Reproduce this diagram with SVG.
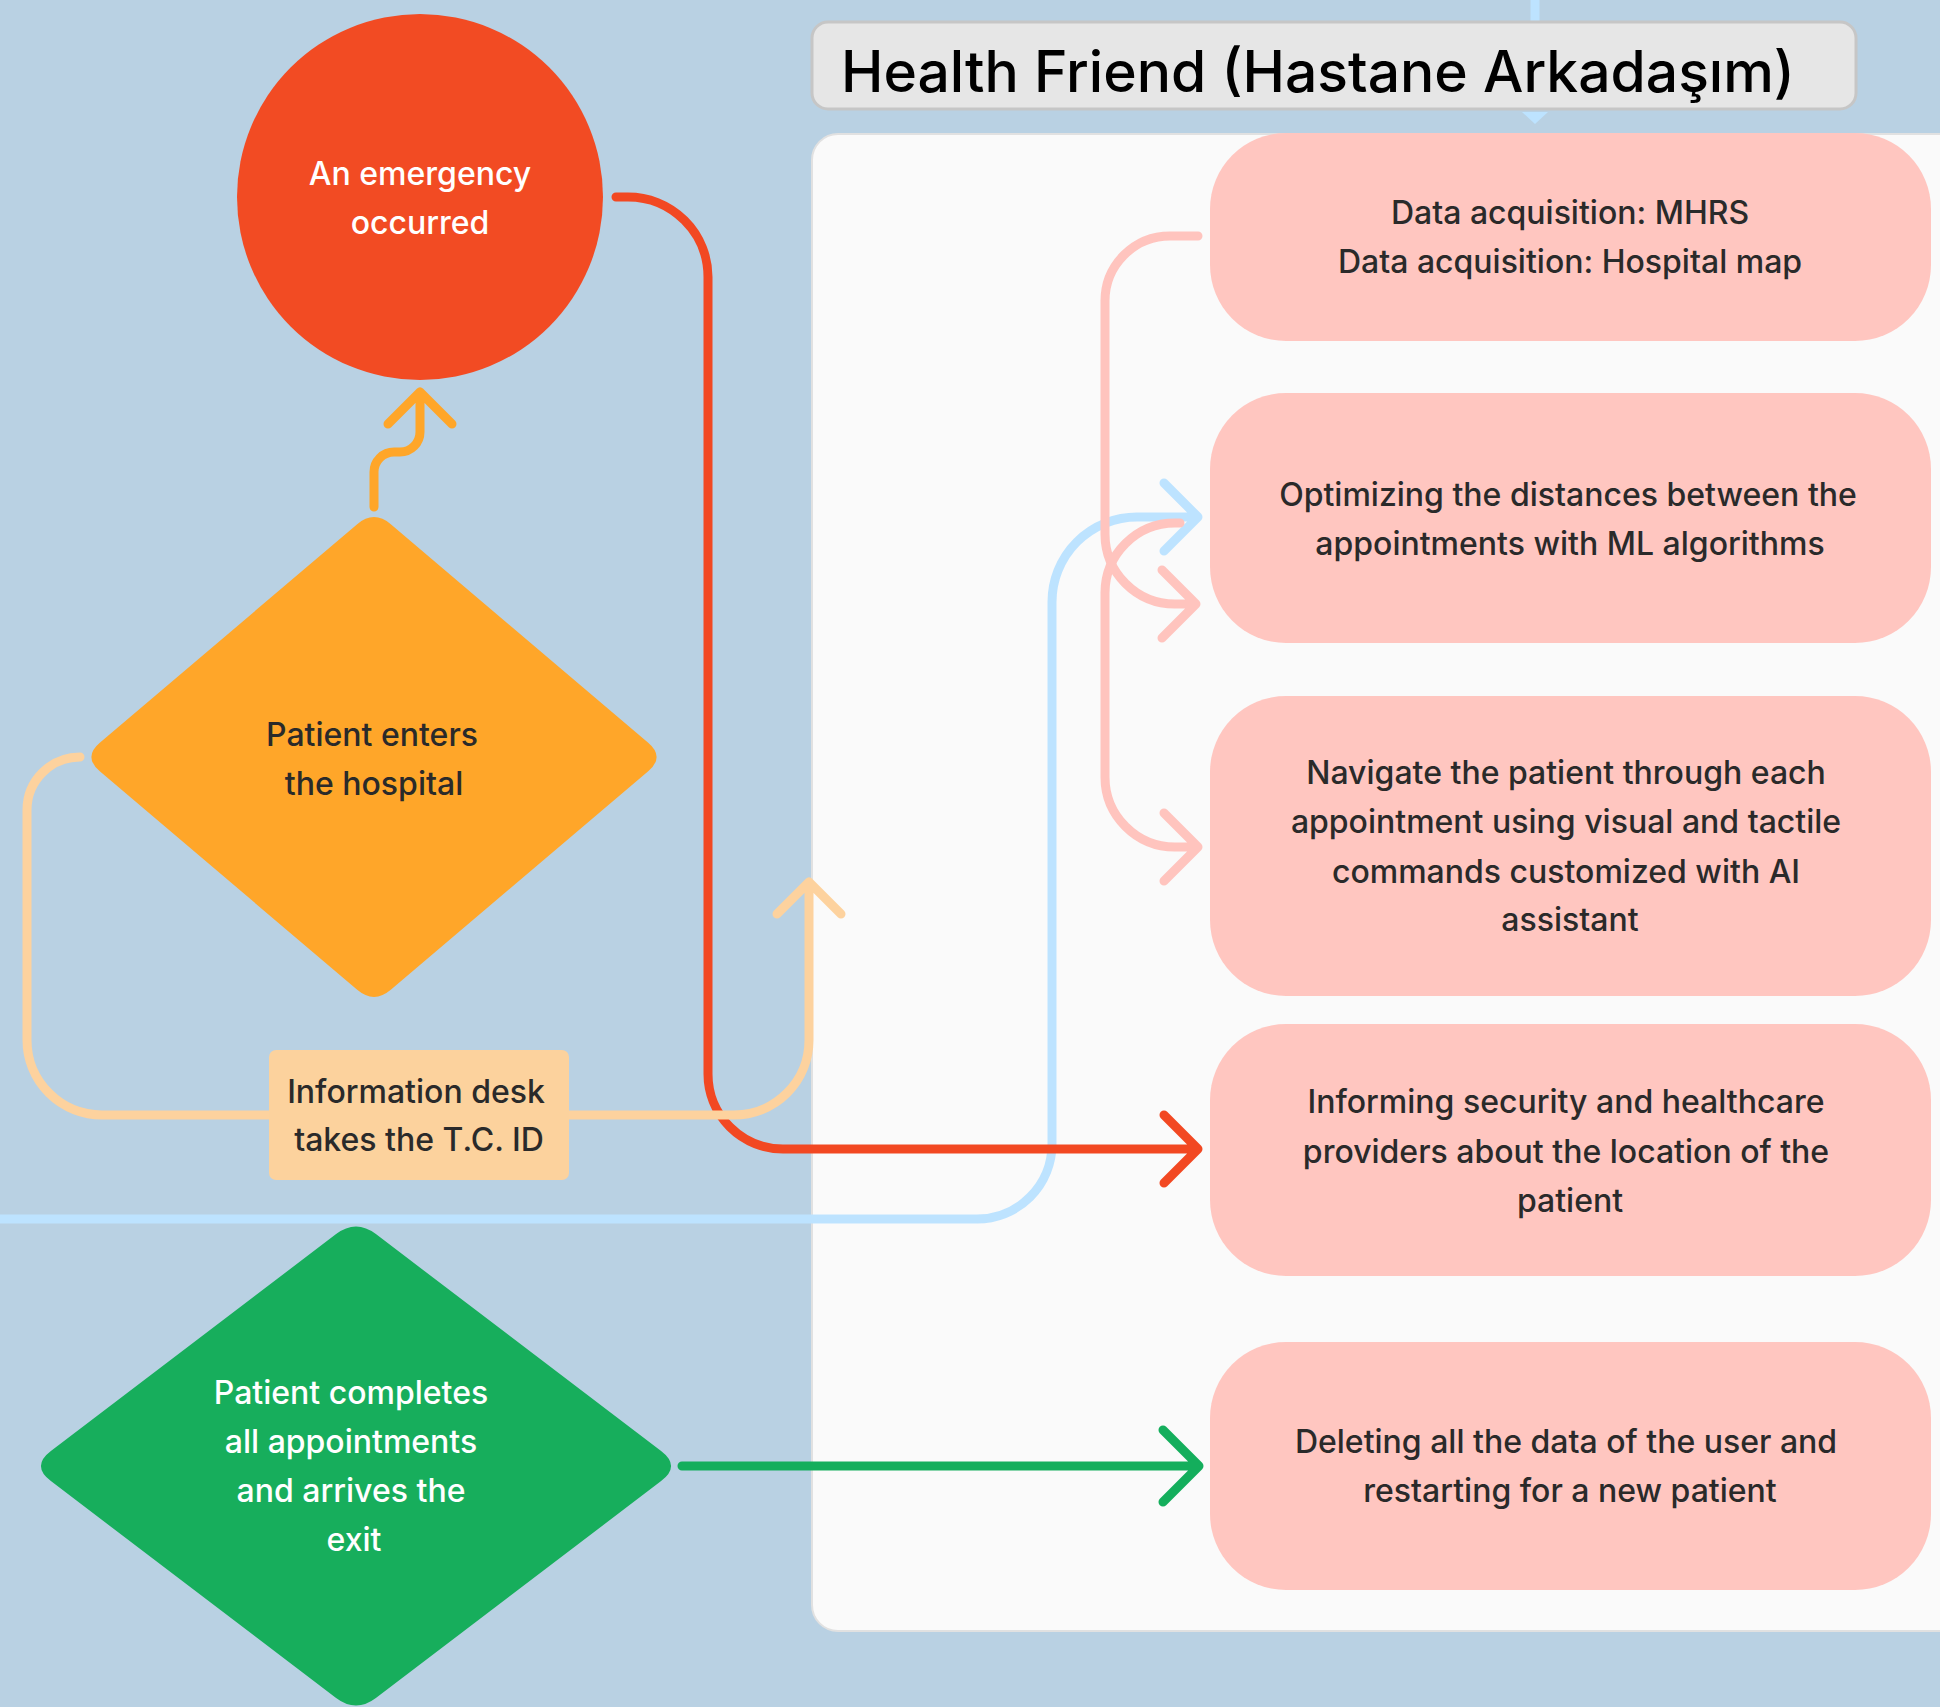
<svg xmlns="http://www.w3.org/2000/svg" width="1940" height="1707" viewBox="0 0 1940 1707">
<style>
.t{font-family:Inter,"Noto Sans","Liberation Sans",sans-serif;font-size:32px;font-weight:500;text-anchor:middle;dominant-baseline:central;fill:#2a2a2a}
.w{fill:#ffffff}
.c{fill:none;stroke-width:9;stroke-linecap:round;stroke-linejoin:round}
.pink{fill:#ffc6c0}
</style>
<rect x="0" y="0" width="1940" height="1707" fill="#b9d1e3"/>
<g id="panel">
<rect x="812" y="134" width="1160" height="1497" rx="26" fill="#fafafa" stroke="#e1e1e1" stroke-width="2"/>
</g>
<g id="title-link">
<line x1="1535" y1="0" x2="1535" y2="22" stroke="#bde3ff" stroke-width="9"/>
<path d="M1522 112 L1548 112 L1535 124 Z" fill="#bde3ff"/>
</g>
<g id="title">
<rect x="812" y="22" width="1044" height="87" rx="16" fill="#e6e6e6" stroke="#c6c6c6" stroke-width="3"/>
<text x="841" y="71" font-family="Inter,'Noto Sans','Liberation Sans',sans-serif" font-size="57" font-weight="500" fill="#000" dominant-baseline="central">Health Friend (Hastane Arkadaşım)</text>
</g>
<g id="connectors">
<path class="c" stroke="#bde3ff" d="M0 1219 H977 A75 75 0 0 0 1052 1144 V602 A85 85 0 0 1 1137 517 H1198 M1164 483 L1198 517 L1164 551"/>
<path class="c" stroke="#ffc4be" d="M1198 236 H1170 A65 65 0 0 0 1105 301 V534 A70 70 0 0 0 1175 604 H1196 M1162 570 L1196 604 L1162 638"/>
<path class="c" stroke="#ffc4be" d="M1180 523 H1175 A70 70 0 0 0 1105 593 V777 A70 70 0 0 0 1175 847 H1198 M1164 813 L1198 847 L1164 881"/>
<path class="c" stroke="#f24822" d="M616 197 H628 A80 80 0 0 1 708 277 V1074 A75 75 0 0 0 783 1149 H1198 M1164 1115 L1198 1149 L1164 1183"/>
<path class="c" stroke="#fdd29e" d="M80 757 A53 53 0 0 0 27 810 V1040 A75 75 0 0 0 102 1115 H734 A75 75 0 0 0 809 1040 V882 M777 914 L809 882 L841 914"/>
<path class="c" stroke="#ffa629" d="M374 507 V472 A20 20 0 0 1 394 452 H400 A20 20 0 0 0 420 432 V392 M388 424 L420 392 L452 424"/>
<path class="c" stroke="#14ae5c" d="M682 1466 H1199 M1163 1430 L1199 1466 L1163 1502"/>
</g>
<g id="emergency">
<circle cx="420" cy="197" r="183" fill="#f24b23"/>
<text class="t w" x="420" y="173">An emergency</text>
<text class="t w" x="420" y="222">occurred</text>
</g>
<g id="enters">
<path d="M390.8 524.2 L648.2 742.8 Q665 757 648.2 771.2 L390.8 989.8 Q374 1004 357.2 989.8 L99.8 771.2 Q83 757 99.8 742.8 L357.2 524.2 Q374 510 390.8 524.2 Z" fill="#ffa629"/>
<text class="t" x="372" y="734">Patient enters</text>
<text class="t" x="374" y="783">the hospital</text>
</g>
<g id="infodesk">
<rect x="269" y="1050" width="300" height="130" rx="7" fill="#fcd29d"/>
<text class="t" x="416" y="1091">Information desk</text>
<text class="t" x="419" y="1139">takes the T.C. ID</text>
</g>
<g id="exit">
<path d="M375.9 1234.1 L661.1 1450.9 Q681 1466 661.1 1481.1 L375.9 1697.9 Q356 1713 336.1 1697.9 L50.9 1481.1 Q31 1466 50.9 1450.9 L336.1 1234.1 Q356 1219 375.9 1234.1 Z" fill="#17ae5c"/>
<text class="t w" x="351" y="1392">Patient completes</text>
<text class="t w" x="351" y="1441">all appointments</text>
<text class="t w" x="351" y="1490">and arrives the</text>
<text class="t w" x="354" y="1539">exit</text>
</g>
<g id="data">
<rect class="pink" x="1210" y="133" width="721" height="208" rx="76"/>
<text class="t" x="1570" y="212">Data acquisition: MHRS</text>
<text class="t" x="1570" y="261">Data acquisition: Hospital map</text>
</g>
<g id="optimize">
<rect class="pink" x="1210" y="393" width="721" height="250" rx="76"/>
<text class="t" x="1568" y="494">Optimizing the distances between the</text>
<text class="t" x="1570" y="543">appointments with ML algorithms</text>
</g>
<g id="navigate">
<rect class="pink" x="1210" y="696" width="721" height="300" rx="76"/>
<text class="t" x="1566" y="772">Navigate the patient through each</text>
<text class="t" x="1566" y="821">appointment using visual and tactile</text>
<text class="t" x="1566" y="871">commands customized with AI</text>
<text class="t" x="1570" y="919">assistant</text>
</g>
<g id="inform">
<rect class="pink" x="1210" y="1024" width="721" height="252" rx="76"/>
<text class="t" x="1566" y="1101">Informing security and healthcare</text>
<text class="t" x="1566" y="1151">providers about the location of the</text>
<text class="t" x="1570" y="1200">patient</text>
</g>
<g id="delete">
<rect class="pink" x="1210" y="1342" width="721" height="248" rx="76"/>
<text class="t" x="1566" y="1441">Deleting all the data of the user and</text>
<text class="t" x="1570" y="1490">restarting for a new patient</text>
</g>
</svg>
